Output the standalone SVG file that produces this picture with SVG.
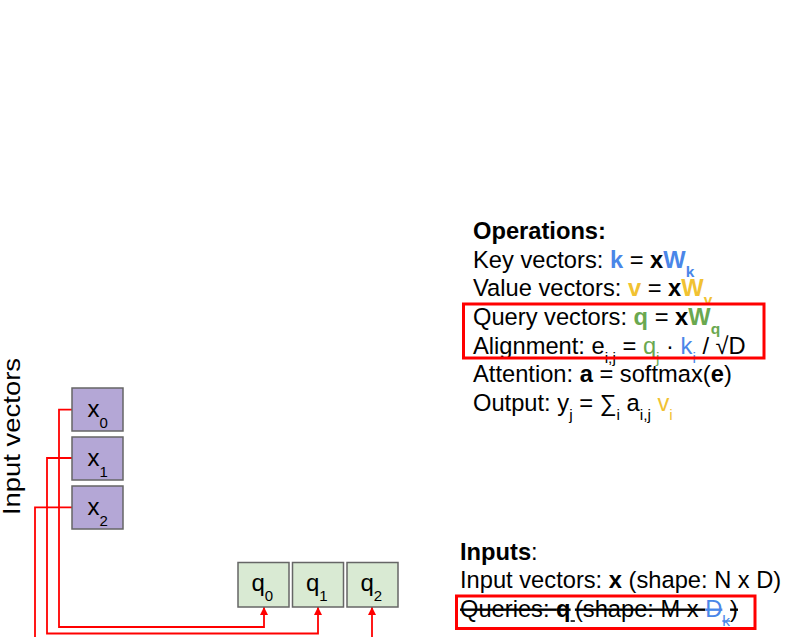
<svg xmlns="http://www.w3.org/2000/svg" width="790" height="637" viewBox="0 0 790 637">
<style>
text{font-family:"Liberation Sans",Arial,sans-serif;fill:#000}
.t{font-size:23.7px}
.b{font-weight:bold}
.sub{font-size:15.5px}
.blue{fill:#4a86e8}
.yel{fill:#f1c232}
.grn{fill:#6aa84f}
.s{text-decoration:line-through}
.xbox{fill:#b4a7d6;stroke:#666;stroke-width:1.5}
.qbox{fill:#d9ead3;stroke:#666;stroke-width:1.5}
.bx{font-size:24px}
.bsub{font-size:15px}
.conn{fill:none;stroke:#ff0000;stroke-width:1.8}
.hl{fill:none;stroke:#ff0000;stroke-width:3}
</style>
<defs>
<marker id="ah" viewBox="0 0 10 10" refX="10" refY="5" markerWidth="8" markerHeight="8" markerUnits="userSpaceOnUse" orient="auto">
<path d="M0,0 L10,5 L0,10 z" fill="#ff0000"/>
</marker>
</defs>

<text class="t" transform="translate(20,515) rotate(-90)" textLength="157" lengthAdjust="spacingAndGlyphs">Input vectors</text>

<g id="connectors">
<polyline class="conn" points="72,409.7 59,409.7 59,627 264,627 264,607" marker-end="url(#ah)"/>
<polyline class="conn" points="72,458 47,458 47,633.5 318,633.5 318,607" marker-end="url(#ah)"/>
<polyline class="conn" points="72,507.3 35,507.3 35,640"/>
<polyline class="conn" points="372,640 372,607" marker-end="url(#ah)"/>
</g>

<g id="x0"><rect class="xbox" x="72" y="388" width="51" height="43"/><text class="bx" x="87.5" y="416.7">x<tspan class="bsub" dy="11">0</tspan></text></g>
<g id="x1"><rect class="xbox" x="72" y="437" width="51" height="43"/><text class="bx" x="87.5" y="465.7">x<tspan class="bsub" dy="11">1</tspan></text></g>
<g id="x2"><rect class="xbox" x="72" y="486" width="51" height="43"/><text class="bx" x="87.5" y="514.7">x<tspan class="bsub" dy="11">2</tspan></text></g>

<g id="q0"><rect class="qbox" x="238" y="562.5" width="51" height="44.5"/><text class="bx" x="251.5" y="590.5">q<tspan class="bsub" dy="10">0</tspan></text></g>
<g id="q1"><rect class="qbox" x="292.5" y="562.5" width="51" height="44.5"/><text class="bx" x="306" y="590.5">q<tspan class="bsub" dy="10">1</tspan></text></g>
<g id="q2"><rect class="qbox" x="347" y="562.5" width="51" height="44.5"/><text class="bx" x="360.5" y="590.5">q<tspan class="bsub" dy="10">2</tspan></text></g>

<g id="operations">
<text class="t b" x="473" y="239">Operations:</text>
<text class="t" x="473" y="267.7">Key vectors: <tspan class="b blue">k</tspan> = <tspan class="b">x</tspan><tspan class="b blue">W</tspan><tspan class="sub b blue" dy="9">k</tspan></text>
<text class="t" x="473" y="296.4">Value vectors: <tspan class="b yel">v</tspan> = <tspan class="b">x</tspan><tspan class="b yel">W</tspan><tspan class="sub b yel" dy="9">v</tspan></text>
<text class="t" x="473" y="325">Query vectors: <tspan class="b grn">q</tspan> = <tspan class="b">x</tspan><tspan class="b grn">W</tspan><tspan class="sub b grn" dy="9">q</tspan></text>
<text class="t" x="473" y="353.7">Alignment: e<tspan class="sub" dy="9">i,j</tspan><tspan dy="-9"> = </tspan><tspan class="grn">q</tspan><tspan class="sub grn" dy="9">j</tspan><tspan dy="-9"> · </tspan><tspan class="blue">k</tspan><tspan class="sub blue" dy="9">i</tspan><tspan dy="-9"> / √D</tspan></text>
<text class="t" x="473" y="382.4">Attention: <tspan class="b">a</tspan> = softmax(<tspan class="b">e</tspan>)</text>
<text class="t" x="473" y="411">Output: y<tspan class="sub" dy="9">j</tspan><tspan dy="-9"> = ∑</tspan><tspan class="sub" dy="9">i</tspan><tspan dy="-9"> a</tspan><tspan class="sub" dy="9">i,j</tspan><tspan dy="-9"> </tspan><tspan class="yel">v</tspan><tspan class="sub yel" dy="9">i</tspan></text>
<rect class="hl" x="463.5" y="304" width="300.5" height="54"/>
</g>

<g id="inputs">
<text class="t" x="460" y="560"><tspan class="b">Inputs</tspan>:</text>
<text class="t" x="460" y="588.3">Input vectors: <tspan class="b">x</tspan> (shape: N x D)</text>
<text class="t" x="460" y="616.7"><tspan class="s">Queries: </tspan><tspan class="s b">q</tspan><tspan class="sub s" dy="9">&#160;</tspan><tspan class="s" dy="-9">(shape: M x </tspan><tspan class="s blue">D</tspan><tspan class="sub s blue" dy="9">k</tspan><tspan class="s" dy="-9">)</tspan></text>
<rect class="hl" x="456.5" y="596" width="298.5" height="32.5"/>
</g>
</svg>
